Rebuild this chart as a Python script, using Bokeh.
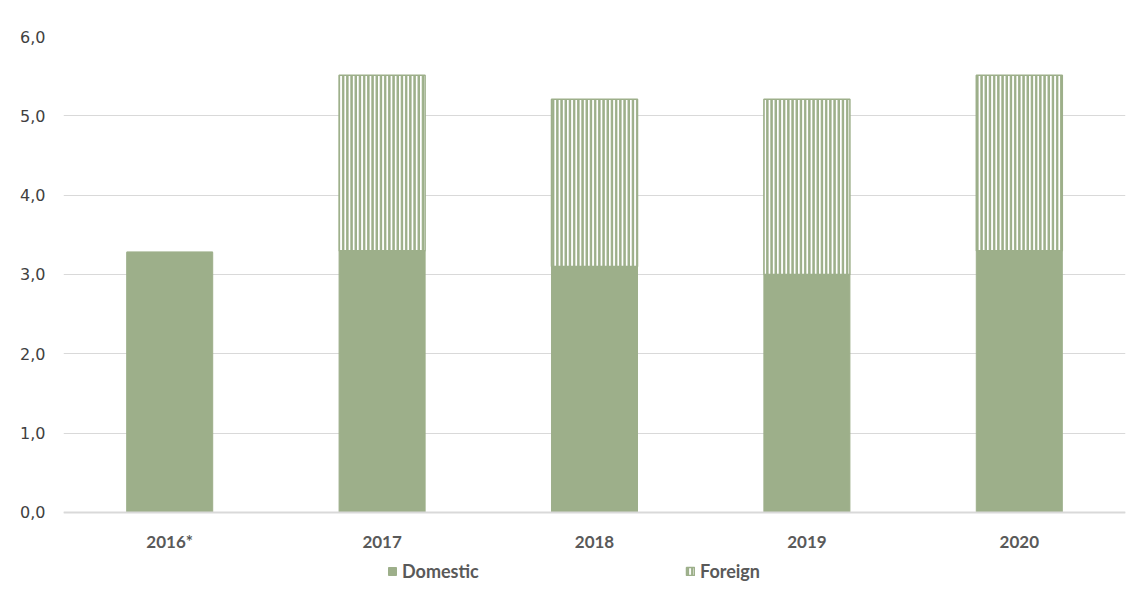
from bokeh.plotting import figure
from bokeh.models import ColumnDataSource, FactorRange, Range1d, Legend, LegendItem, CustomJSTickFormatter, CategoricalAxis
from bokeh.embed import file_html
from bokeh.resources import INLINE

years = ["2016*", "2017", "2018", "2019", "2020"]
domestic = [3.28, 3.30, 3.10, 3.00, 3.30]
foreign = [0.0, 2.21, 2.11, 2.21, 2.21]
yticks = [0, 1, 2, 3, 4, 5, 6]

GREEN = "#9DAF8A"
GRID = "#D9D9D9"

src = ColumnDataSource(dict(
    x=years,
    d_top=domestic,
    f_bottom=domestic,
    f_top=[d + f for d, f in zip(domestic, foreign)],
))

# frame spans 36..602 px; 0..6 occupies 476 px, so the range extends below 0 to hold labels and legend
p = figure(x_range=FactorRange(*years, range_padding=0), y_range=Range1d(-1.1345, 6),
           width=1133, height=602, output_backend="svg", toolbar_location=None,
           x_axis_location=None,
           min_border_left=63, min_border_right=8, min_border_top=36, min_border_bottom=0)
p.outline_line_color = None

r_dom = p.vbar(x="x", top="d_top", bottom=0, width=0.405, source=src,
               fill_color=GREEN, line_color=GREEN)
r_for = p.vbar(x="x", top="f_top", bottom="f_bottom", width=0.405, source=src,
               fill_color="white", line_color=GREEN, line_width=1.5,
               hatch_pattern="vertical_line", hatch_color=GREEN, hatch_scale=4.2, hatch_weight=2.7)

p.yaxis.ticker = yticks
p.yaxis.formatter = CustomJSTickFormatter(code="return tick.toFixed(1).replace('.', ',');")
p.yaxis.axis_line_color = None
p.yaxis.major_tick_line_color = None
p.yaxis.minor_tick_line_color = None
p.yaxis.major_tick_out = 0
p.yaxis.major_label_standoff = 18
p.yaxis.major_label_text_font = "DejaVu Sans"
p.yaxis.major_label_text_font_size = "16px"
p.yaxis.major_label_text_color = "#404040"

xax = CategoricalAxis(fixed_location=0)
xax.axis_line_color = GRID
xax.axis_line_width = 2
xax.major_tick_line_color = None
xax.minor_tick_line_color = None
xax.major_tick_out = 0
xax.major_tick_in = 0
xax.major_label_standoff = 19
xax.major_label_text_font = "Lato"
xax.major_label_text_font_style = "bold"
xax.major_label_text_font_size = "17px"
xax.major_label_text_color = "#595959"
p.add_layout(xax, "below")

p.xgrid.grid_line_color = None
p.ygrid.grid_line_color = GRID
p.ygrid.ticker = yticks

legend = Legend(items=[LegendItem(label="Domestic", renderers=[r_dom]),
                       LegendItem(label="Foreign", renderers=[r_for])],
                orientation="horizontal", location=(324, 20),
                glyph_width=10, glyph_height=10, label_standoff=5, label_width=101,
                spacing=182, padding=0, margin=0,
                border_line_alpha=0, background_fill_alpha=0,
                label_text_font="Lato", label_text_font_style="bold",
                label_text_font_size="18px", label_text_color="#595959")
p.add_layout(legend, "center")

open("out.html", "w").write(file_html(p, INLINE))
